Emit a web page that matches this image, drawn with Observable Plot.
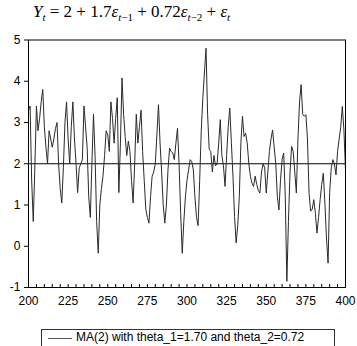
<!DOCTYPE html>
<html>
<head>
<meta charset="utf-8">
<script src="https://cdn.jsdelivr.net/npm/d3@7"></script>
<script src="https://cdn.jsdelivr.net/npm/@observablehq/plot@0.6"></script>
<style>
  html, body { margin: 0; padding: 0; background: #fff; }
  #wrap { position: relative; width: 357px; height: 346px; overflow: hidden; }
  #title { position: absolute; left: 33px; top: 2px; font-family: "Liberation Serif", serif; font-size: 17px; white-space: nowrap; color: #000; }
  #title i { font-style: italic; }
  #title sub { font-size: 11px; vertical-align: -4px; line-height: 0; }
  #legend { position: absolute; left: 41px; top: 329px; width: 294px; height: 30px; border: 1px solid #333; box-sizing: border-box; font-family: "Liberation Sans", Arial, sans-serif; font-size: 12px; color: #000; }
  #legend .swatch { position: absolute; left: 6px; top: 8px; width: 24px; border-top: 1px solid #555; }
  #legend .txt { position: absolute; left: 34px; top: 0px; white-space: nowrap; }
</style>
</head>
<body>
<div id="wrap">
  <div id="chart"></div>
  <div id="title"><i>Y</i><sub><i>t</i></sub> = 2 + 1.7<i>ε</i><sub><i>t</i>−1</sub> + 0.72<i>ε</i><sub><i>t</i>−2</sub> + <i>ε</i><sub><i>t</i></sub></div>
  <div id="legend"><div class="swatch"></div><div class="txt">MA(2) with theta_1=1.70 and theta_2=0.72</div></div>
</div>
<script>
const periods = d3.range(200, 401);
const values = [
  3.3, 3.4, 1.6, 0.6, 1.9, 3.4, 2.8, 3.1, 3.5, 3.8,
  2.9, 2.4, 2.0, 2.8, 2.6, 2.4, 2.6, 2.85, 3.0, 2.0,
  1.4, 1.05, 1.9, 3.0, 3.5, 2.6, 2.0, 2.9, 3.5, 2.6,
  2.0, 1.3, 1.9, 2.0, 2.1, 3.4, 2.9, 2.4, 1.2, 0.7,
  2.0, 3.2, 2.2, 0.6, -0.17, 1.0, 1.4, 1.7, 2.2, 2.8,
  2.7, 2.3, 3.5, 3.1, 2.5, 3.1, 3.6, 1.3, 2.5, 4.08,
  3.2, 2.66, 2.2, 2.55, 2.3, 1.6, 1.05, 2.0, 3.2, 2.5,
  2.9, 3.3, 2.3, 1.6, 0.9, 0.7, 0.56, 1.2, 1.7, 1.8,
  2.0, 2.7, 3.43, 2.5, 1.8, 1.0, 0.56, 1.0, 1.85, 2.38,
  2.3, 2.26, 2.1, 2.5, 2.86, 2.0, 0.8, -0.17, 0.6, 1.2,
  1.6, 1.85, 2.1, 2.05, 1.85, 1.2, 0.7, 0.5, 1.6, 2.8,
  3.6, 4.2, 4.8, 3.2, 2.35, 2.3, 1.8, 2.2, 1.95, 2.0,
  2.5, 3.07, 2.2, 1.95, 1.45, 2.2, 2.9, 3.35, 2.5, 1.7,
  0.72, 0.08, 0.5, 1.2, 2.5, 3.15, 2.66, 2.74, 2.5, 2.0,
  1.7, 1.53, 1.45, 1.7, 1.5, 1.35, 1.29, 1.8, 2.0, 1.9,
  1.29, 1.8, 2.3, 2.6, 2.82, 2.4, 2.0, 1.2, 0.88, 1.6,
  2.1, 2.26, 1.2, -0.85, 0.6, 1.8, 2.42, 2.3, 1.8, 1.29,
  2.6, 3.5, 3.92, 3.2, 3.15, 3.19, 2.6, 1.3, 0.85, 0.9,
  1.13, 0.8, 0.32, 0.7, 1.13, 1.5, 1.77, 1.05, 0.2, -0.41,
  1.3, 1.9, 2.1, 2.0, 1.73, 2.3, 2.6, 2.9, 3.39, 2.82,
  1.85
];
const yTicks = [-1, 0, 1, 2, 3, 4, 5];
const xTicks = [200, 225, 250, 275, 300, 325, 350, 375, 400];
const xMinorTicks = d3.range(200, 401, 5);
const meanLevel = [2];

const data = periods.map((t, i) => ({t, v: values[i]}));

const chart = Plot.plot({
  width: 357,
  height: 346,
  marginTop: 39.5,
  marginBottom: 59,
  marginLeft: 28,
  marginRight: 12,
  style: {fontFamily: "'Liberation Sans', Arial, sans-serif", fontSize: "12px", color: "#000", background: "#fff"},
  x: {domain: [200, 400]},
  y: {domain: [-1, 5]},
  marks: [
    Plot.ruleY(meanLevel, {stroke: "#000", strokeWidth: 1}),
    Plot.line(data, {x: "t", y: "v", stroke: "#2a2a2a", strokeWidth: 1}),
    Plot.axisY({ticks: yTicks, tickSize: 4, tickPadding: 4, label: null, fontSize: 12, tickFormat: d => String(d)}),
    Plot.axisX({ticks: xTicks, tickSize: 0, tickPadding: 9, label: null, fontSize: 12, tickFormat: d => String(d)}),
    Plot.axisX({ticks: xMinorTicks, tickSize: -3, tickFormat: () => "", label: null}),
    Plot.frame({stroke: "#000", strokeWidth: 1})
  ]
});
document.getElementById("chart").appendChild(chart);
</script>
</body>
</html>
